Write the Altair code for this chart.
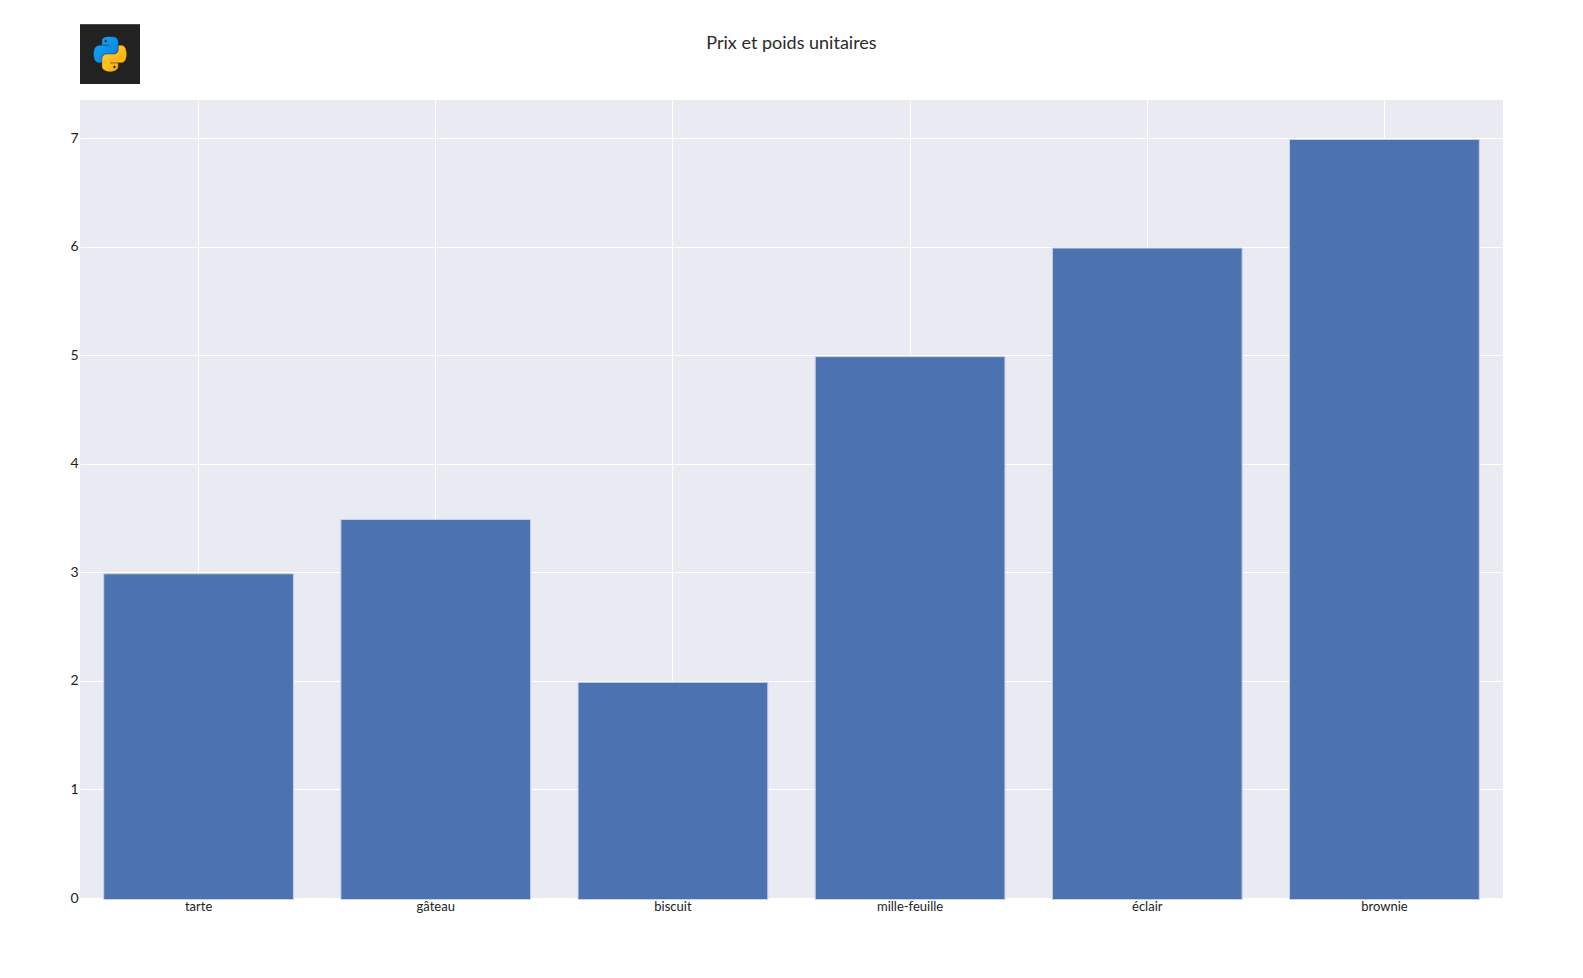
import urllib.parse
import altair as alt
import pandas as pd

categories = ["tarte", "gâteau", "biscuit", "mille-feuille", "éclair", "brownie"]
prices = [3, 3.5, 2, 5, 6, 7]
title_text = "Prix et poids unitaires"

logo_svg = """<svg xmlns="http://www.w3.org/2000/svg" width="60" height="60" viewBox="0 0 60 60">
<defs>
<linearGradient id="b" x1="0" y1="0" x2="1" y2="1"><stop offset="0" stop-color="#12aef8"/><stop offset="1" stop-color="#0a78dc"/></linearGradient>
<linearGradient id="y" x1="0" y1="0" x2="1" y2="1"><stop offset="0" stop-color="#ffd23a"/><stop offset="1" stop-color="#ffa800"/></linearGradient>
</defs>
<rect width="60" height="60" fill="#222222"/><rect width="60" height="1" fill="#4a4a4a"/>
<g transform="translate(14,13) scale(0.29,0.305)">
<path fill="url(#b)" stroke="url(#b)" stroke-width="2" d="M54.919,0.001 C50.335,0.022 45.958,0.413 42.106,1.095 C30.76,3.099 28.7,7.295 28.7,15.032 L28.7,25.251 L55.513,25.251 L55.513,28.657 L18.638,28.657 C10.845,28.657 4.022,33.341 1.888,42.251 C-0.574,52.463 -0.684,58.836 1.888,69.5 C3.793,77.438 8.343,83.094 16.135,83.094 L25.354,83.094 L25.354,70.844 C25.354,61.994 33.011,54.188 42.106,54.188 L68.888,54.188 C76.343,54.188 82.294,48.05 82.294,40.563 L82.294,15.032 C82.294,7.766 76.164,2.307 68.888,1.095 C64.282,0.328 59.502,-0.022 54.919,0.001 Z M40.419,8.219 C43.188,8.219 45.45,10.518 45.45,13.344 C45.45,16.16 43.188,18.438 40.419,18.438 C37.64,18.438 35.388,16.16 35.388,13.344 C35.388,10.518 37.64,8.219 40.419,8.219 Z"/>
<path fill="url(#y)" stroke="url(#y)" stroke-width="2" d="M85.638,28.657 L85.638,40.563 C85.638,49.794 77.812,57.563 68.888,57.563 L42.106,57.563 C34.77,57.563 28.7,63.842 28.7,71.188 L28.7,96.719 C28.7,103.985 35.019,108.259 42.106,110.344 C50.592,112.839 58.73,113.29 68.888,110.344 C75.64,108.389 82.294,104.455 82.294,96.719 L82.294,86.5 L55.513,86.5 L55.513,83.094 L95.7,83.094 C103.492,83.094 106.396,77.659 109.106,69.5 C111.906,61.1 111.787,53.021 109.106,42.25 C107.18,34.495 103.501,28.657 95.7,28.657 Z M70.575,93.313 C73.354,93.313 75.606,95.591 75.606,98.407 C75.606,101.233 73.354,103.532 70.575,103.532 C67.806,103.532 65.544,101.233 65.544,98.407 C65.544,95.591 67.806,93.313 70.575,93.313 Z"/>
</g></svg>"""
logo_url = "data:image/svg+xml;utf8," + urllib.parse.quote(logo_svg)

df = pd.DataFrame({"categorie": categories, "prix": prices})
FONT = "Lato"

bars = (
    alt.Chart(df)
    .mark_bar(color="#4C72B0", stroke="#C6D2E8", strokeWidth=1, width={"band": 0.8}, yOffset=1.5)
    .encode(
        x=alt.X(
            "categorie:N",
            sort=categories,
            title=None,
            scale=alt.Scale(paddingInner=0, paddingOuter=0),
            axis=alt.Axis(
                labelAngle=0, grid=True, gridColor="#FFFFFF", gridWidth=1, ticks=False,
                domain=False, labelPadding=2, labelFontSize=13, labelColor="#222222",
                labelFont=FONT, labelFontWeight="normal",
            ),
        ),
        y=alt.Y(
            "prix:Q",
            title=None,
            scale=alt.Scale(domain=[0, 7.35], nice=False),
            axis=alt.Axis(
                values=list(range(8)), grid=True, gridColor="#FFFFFF", gridWidth=1,
                ticks=False, domain=False, labelPadding=2, labelFontSize=14,
                labelColor="#222222", labelFont=FONT, format="d",
            ),
        ),
    )
)

logo = (
    alt.Chart(pd.DataFrame({"url": [logo_url]}))
    .mark_image(width=60, height=60, align="left", baseline="top")
    .encode(url="url:N", x=alt.value(0), y=alt.value(-76))
)

heading = (
    alt.Chart(pd.DataFrame({"t": [title_text]}))
    .mark_text(font=FONT, fontSize=18, color="#2a2a2a", align="center", baseline="middle")
    .encode(text="t:N", x=alt.value(711.5), y=alt.value(-56))
)

chart = (
    alt.layer(bars, logo, heading)
    .properties(
        width=1423,
        height=798,
        padding={"left": 72, "top": 92, "right": 72, "bottom": 64},
        autosize=alt.AutoSizeParams(type="none"),
    )
    .configure_view(fill="#EAEAF2", stroke=None)
)

chart.save("out.html", embed_options={"renderer": "svg", "actions": False})
